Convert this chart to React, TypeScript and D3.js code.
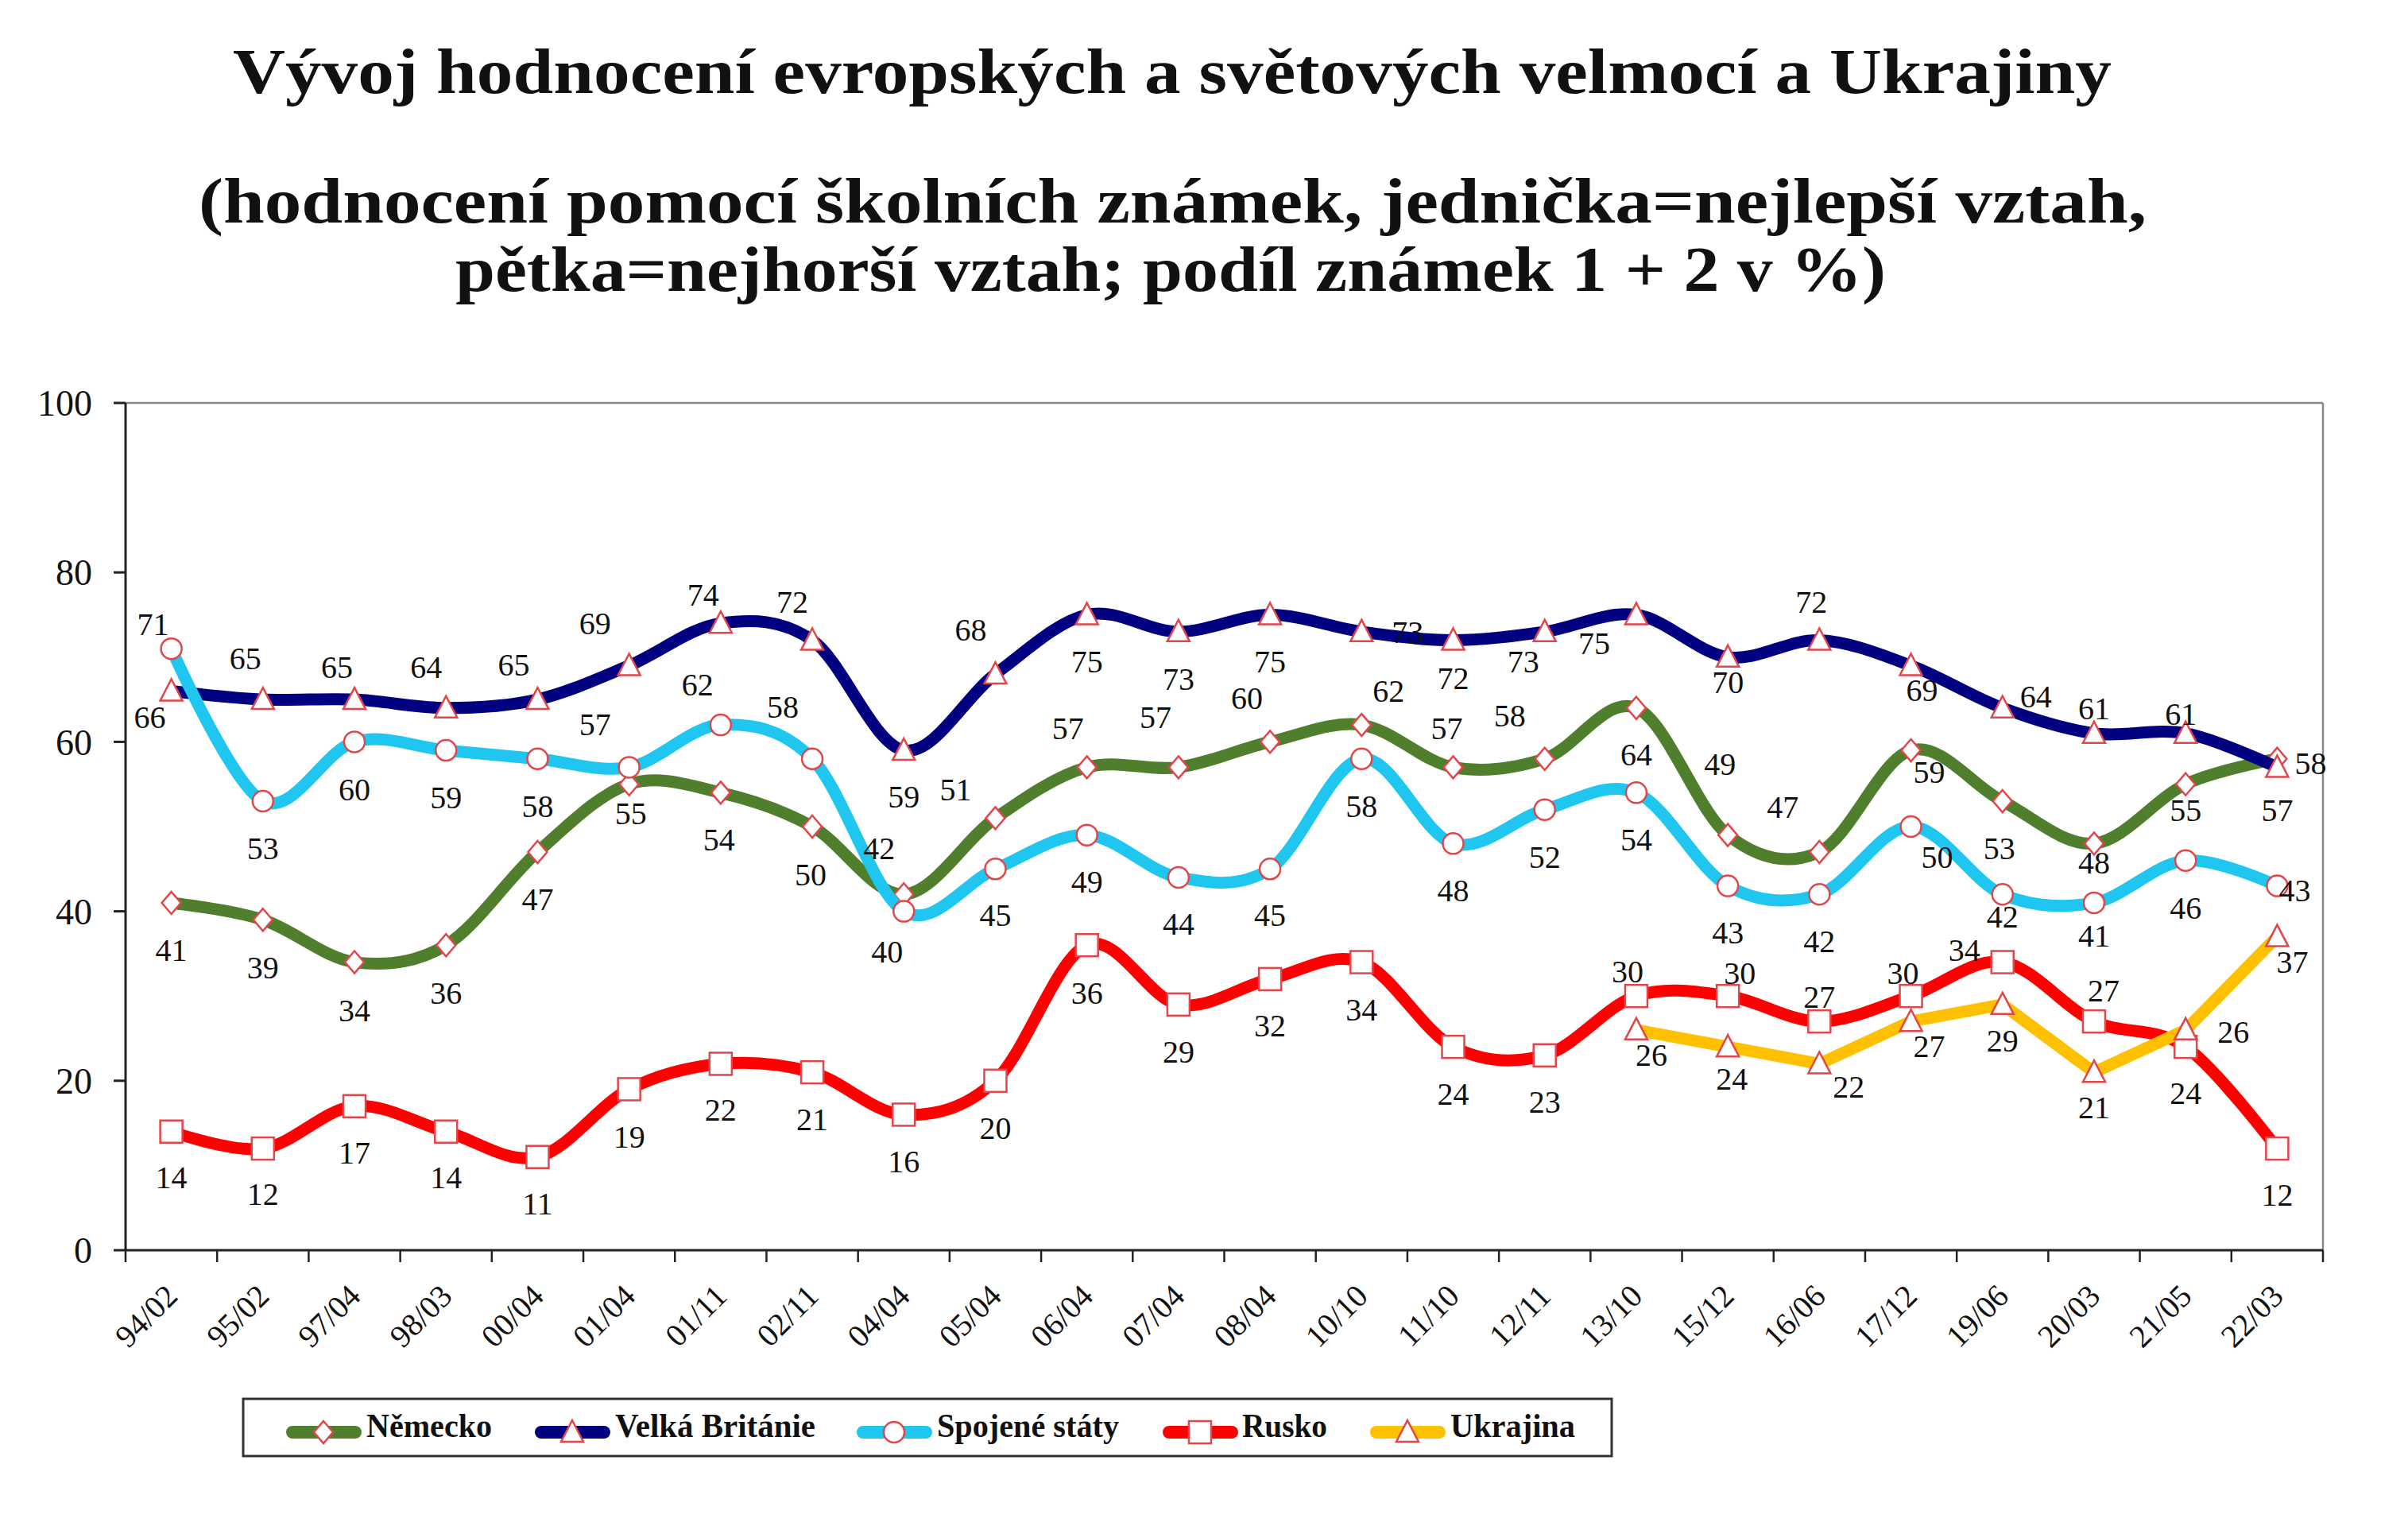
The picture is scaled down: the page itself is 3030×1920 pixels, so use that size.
import * as d3 from "d3";

const categories = [
  "94/02", "95/02", "97/04", "98/03", "00/04", "01/04", "01/11", "02/11",
  "04/04", "05/04", "06/04", "07/04", "08/04", "10/10", "11/10", "12/11",
  "13/10", "15/12", "16/06", "17/12", "19/06", "20/03", "21/05", "22/03",
];

const nemecko = [41, 39, 34, 36, 47, 55, 54, 50, 42, 51, 57, 57, 60, 62, 57, 58, 64, 49, 47, 59, 53, 48, 55, 58];
const velkaBritanie = [66, 65, 65, 64, 65, 69, 74, 72, 59, 68, 75, 73, 75, 73, 72, 73, 75, 70, 72, 69, 64, 61, 61, 57];
const spojeneStaty = [71, 53, 60, 59, 58, 57, 62, 58, 40, 45, 49, 44, 45, 58, 48, 52, 54, 43, 42, 50, 42, 41, 46, 43];
const rusko = [14, 12, 17, 14, 11, 19, 22, 21, 16, 20, 36, 29, 32, 34, 24, 23, 30, 30, 27, 30, 34, 27, 24, 12];
const ukrajina: (number | null)[] = [
  null, null, null, null, null, null, null, null, null, null, null, null, null, null, null, null,
  26, 24, 22, 27, 29, 21, 26, 37,
];

const yTicks = [0, 20, 40, 60, 80, 100];

// where each data label sits relative to its point (px)
const nemeckoLabels = [[0, 59], [0, 60], [0, 60], [0, 60], [0, 59], [2, 36], [-2, 59], [-2, 60], [-31, -58], [-50, -36], [-24, -49], [-29, -63], [-29, -55], [34, -43], [-8, -49], [-44, -55], [0, 58], [-10, -90], [-46, -57], [23, 27], [-4, 59], [0, 24], [0, 32], [42, 5]];
const britanieLabels = [[-27, 33], [-22, -52], [-22, -41], [-25, -52], [-30, -44], [-43, -53], [-22, -36], [-25, -48], [0, 58], [-31, -56], [0, 58], [0, 59], [0, 58], [58, 0], [0, 48], [-27, 37], [-53, 35], [0, 31], [-10, -48], [14, 31], [42, -15], [0, -32], [-6, -25], [0, 54]];
const statyLabels = [[-23, -31], [0, 59], [0, 60], [0, 59], [0, 59], [-43, -54], [-29, -51], [-37, -66], [-21, 50], [0, 58], [0, 58], [0, 58], [0, 58], [0, 59], [0, 59], [0, 59], [0, 59], [0, 58], [0, 59], [33, 38], [0, 28], [0, 41], [0, 59], [22, 5]];
const ruskoLabels = [[0, 57], [0, 57], [0, 58], [0, 57], [0, 58], [0, 60], [0, 58], [0, 59], [0, 59], [0, 59], [0, 60], [0, 59], [0, 58], [0, 59], [0, 59], [0, 58], [-11, -31], [15, -29], [0, -31], [-10, -29], [-48, -16], [12, -39], [0, 58], [0, 58]];
const ukrajinaLabels = [[0, 0], [0, 0], [0, 0], [0, 0], [0, 0], [0, 0], [0, 0], [0, 0], [0, 0], [0, 0], [0, 0], [0, 0], [0, 0], [0, 0], [0, 0], [0, 0], [19, 31], [5, 40], [37, 29], [23, 31], [0, 45], [0, 44], [60, 2], [19, 31]];

type Marker = "diamond" | "triangle" | "circle" | "square";

const series: {
  name: string;
  values: (number | null)[];
  color: string;
  marker: Marker;
  smooth: boolean;
  labels: number[][];
}[] = [
  { name: "Německo", values: nemecko, color: "#4f7f2d", marker: "diamond", smooth: true, labels: nemeckoLabels },
  { name: "Velká Británie", values: velkaBritanie, color: "#000080", marker: "triangle", smooth: true, labels: britanieLabels },
  { name: "Spojené státy", values: spojeneStaty, color: "#1ec6f0", marker: "circle", smooth: true, labels: statyLabels },
  { name: "Rusko", values: rusko, color: "#ff0000", marker: "square", smooth: true, labels: ruskoLabels },
  { name: "Ukrajina", values: ukrajina, color: "#ffc000", marker: "triangle", smooth: false, labels: ukrajinaLabels },
];

const legendItems = [
  { lineX: 360, textX: 461, textW: 158 },
  { lineX: 673, textX: 774, textW: 252 },
  { lineX: 1078, textX: 1179, textW: 229 },
  { lineX: 1463, textX: 1563, textW: 107 },
  { lineX: 1724, textX: 1825, textW: 157 },
];

const W = 3030;
const H = 1920;
const plot = { left: 158, right: 2923, top: 507, bottom: 1573 };
const serif = "'Liberation Serif', 'Times New Roman', serif";
const markerStroke = "#e0464a";

function MarkerShape({ type, x, y }: { type: Marker; x: number; y: number }) {
  const common = { fill: "#fff", stroke: markerStroke, strokeWidth: 2.5 };
  if (type === "circle") return <circle cx={x} cy={y} r={13} {...common} />;
  if (type === "square") return <rect x={x - 14} y={y - 14} width={28} height={28} {...common} />;
  if (type === "diamond")
    return <path d={`M${x},${y - 14}L${x + 12},${y}L${x},${y + 14}L${x - 12},${y}Z`} {...common} />;
  return <path d={`M${x},${y - 15}L${x + 14},${y + 12}L${x - 14},${y + 12}Z`} {...common} />;
}

export default function App() {
  const x = d3.scaleBand().domain(categories).range([plot.left, plot.right]);
  const y = d3.scaleLinear().domain([0, 100]).range([plot.bottom, plot.top]);
  const cx = (c: string) => (x(c) as number) + x.bandwidth() / 2;

  const lineFor = (smooth: boolean) =>
    d3
      .line<number | null>()
      .defined((d) => d != null)
      .x((_, i) => cx(categories[i]))
      .y((d) => y(d as number))
      .curve(smooth ? d3.curveCardinal.tension(0) : d3.curveLinear);

  const boundaries = [...categories.map((c) => x(c) as number), plot.right];

  return (
    <svg width={W} height={H} viewBox={`0 0 ${W} ${H}`} style={{ display: "block", background: "#fff" }}>
      <style>{`body{margin:0}`}</style>
      <rect width={W} height={H} fill="#fff" />

      {/* titles */}
      <g fontFamily={serif} fontWeight="bold" fontSize={80} fill="#111">
        <text x={293} y={117} textLength={2364} lengthAdjust="spacingAndGlyphs">
          Vývoj hodnocení evropských a světových velmocí a Ukrajiny
        </text>
        <text x={250} y={280} textLength={2451} lengthAdjust="spacingAndGlyphs">
          (hodnocení pomocí školních známek, jednička=nejlepší vztah,
        </text>
        <text x={573} y={366} textLength={1800} lengthAdjust="spacingAndGlyphs">
          pětka=nejhorší vztah; podíl známek 1 + 2 v %)
        </text>
      </g>

      {/* frame */}
      <line x1={plot.left} x2={plot.right} y1={plot.top} y2={plot.top} stroke="#8a8a8a" strokeWidth={2.5} />
      <line x1={plot.right} x2={plot.right} y1={plot.top} y2={plot.bottom} stroke="#8a8a8a" strokeWidth={2.5} />
      <line x1={plot.left} x2={plot.left} y1={plot.top} y2={plot.bottom} stroke="#222" strokeWidth={3} />
      <line x1={plot.left} x2={plot.right} y1={plot.bottom} y2={plot.bottom} stroke="#222" strokeWidth={3} />

      {/* y axis */}
      <g fontFamily={serif} fontSize={46} fill="#111">
        {yTicks.map((t) => (
          <g key={t}>
            <line x1={plot.left - 15} x2={plot.left} y1={y(t)} y2={y(t)} stroke="#222" strokeWidth={3} />
            <text x={plot.left - 42} y={y(t)} dy="0.35em" textAnchor="end">
              {t}
            </text>
          </g>
        ))}
      </g>

      {/* x axis */}
      {boundaries.map((b, i) => (
        <line key={i} x1={b} x2={b} y1={plot.bottom} y2={plot.bottom + 15} stroke="#222" strokeWidth={2.5} />
      ))}
      <g fontFamily={serif} fontSize={40} fill="#111">
        {categories.map((c) => (
          <text key={c} transform={`translate(${cx(c) + 10},${plot.bottom + 60}) rotate(-45)`} textAnchor="end">
            {c}
          </text>
        ))}
      </g>

      {/* series */}
      {series.map((s) => (
        <g key={s.name}>
          <path d={lineFor(s.smooth)(s.values) ?? ""} fill="none" stroke={s.color} strokeWidth={15} strokeLinejoin="round" strokeLinecap="round" />
          {s.values.map((v, i) =>
            v == null ? null : <MarkerShape key={i} type={s.marker} x={cx(categories[i])} y={y(v)} />
          )}
        </g>
      ))}

      {/* data labels */}
      <g fontFamily={serif} fontSize={40} fill="#111" textAnchor="middle">
        {series.map((s) =>
          s.values.map((v, i) =>
            v == null ? null : (
              <text key={s.name + i} x={cx(categories[i]) + s.labels[i][0]} y={y(v) + s.labels[i][1]} dy="0.35em">
                {v}
              </text>
            )
          )
        )}
      </g>

      {/* legend */}
      <rect x={306} y={1760} width={1722} height={72} fill="#fff" stroke="#333" strokeWidth={3} />
      {series.map((s, i) => {
        const it = legendItems[i];
        return (
          <g key={s.name}>
            <line x1={it.lineX + 8} x2={it.lineX + 87} y1={1802} y2={1802} stroke={s.color} strokeWidth={16} strokeLinecap="round" />
            <MarkerShape type={s.marker} x={it.lineX + 47} y={1802} />
            <text x={it.textX} y={1808} fontFamily={serif} fontWeight="bold" fontSize={42} fill="#111" textLength={it.textW} lengthAdjust="spacingAndGlyphs">
              {s.name}
            </text>
          </g>
        );
      })}
    </svg>
  );
}
